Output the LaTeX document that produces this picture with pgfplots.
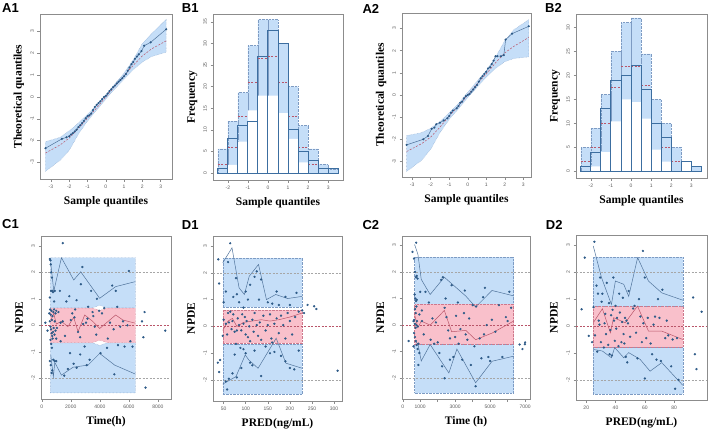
\documentclass[border=0pt]{standalone}
\usepackage{fontspec}
\setmainfont{Liberation Serif}
\newfontfamily\arial{Liberation Sans}
\usepackage{pgfplots}
\pgfplotsset{compat=1.18}

\definecolor{bandblue}{RGB}{197,222,248}
\definecolor{bandedge}{RGB}{125,155,195}
\definecolor{pinkband}{RGB}{249,192,203}
\definecolor{pinkedge}{RGB}{205,120,140}
\definecolor{ptblue}{RGB}{45,90,135}
\definecolor{lineblue}{RGB}{80,115,155}
\definecolor{medred}{RGB}{185,85,105}
\definecolor{obsblue}{RGB}{60,110,160}
\definecolor{boxgray}{RGB}{140,140,140}
\definecolor{ticktext}{RGB}{90,90,90}

\pgfplotsset{
  panel/.style={
    scale only axis, width=130pt, height=165pt,
    anchor=south west, clip=true,
    axis line style={boxgray, line width=0.6pt},
    tick align=outside, tick pos=left,
    major tick length=2.5pt,
    tick style={boxgray, line width=0.4pt},
    ticklabel style={font=\arial\fontsize{5}{6}\selectfont, text=ticktext},
    /pgf/number format/assume math mode=true,
    /pgf/number format/1000 sep={},
    scaled ticks=false,
    yticklabel style={rotate=90, anchor=south},
    label style={font=\bfseries\fontsize{11.5}{12}\selectfont},
    xlabel style={at={(axis description cs:0.5,0)}, anchor=base, yshift=-25pt},
    ylabel style={at={(axis description cs:-0.14,0.5)}, anchor=base},
  },
  band/.style={fill=bandblue, draw=bandedge, densely dotted, line width=0.4pt},
  pband/.style={fill=pinkband, draw=pinkedge, densely dotted, line width=0.4pt},
  pts/.style={only marks, mark=*, mark size=0.95pt, ptblue, mark options={draw=ptblue, fill=ptblue}},
  pctl/.style={lineblue, line width=0.5pt},
  pmed/.style={medred, line width=0.5pt},
  refl/.style={gray!70, line width=0.4pt, dash pattern=on 2pt off 1.5pt},
  zerol/.style={medred, line width=0.4pt, dash pattern=on 2pt off 1.5pt},
  qqmed/.style={medred, line width=0.5pt, dash pattern=on 2pt off 1.5pt},
}

\begin{document}
\begin{tikzpicture}
\useasboundingbox (0,0) rectangle (708pt,-432pt);

% panel letters
\node[anchor=base west, inner sep=0, font=\arial\bfseries\fontsize{13}{14}\selectfont] at (2pt,-12.7pt) {A1};
\node[anchor=base west, inner sep=0, font=\arial\bfseries\fontsize{13}{14}\selectfont] at (181.7pt,-12.7pt) {B1};
\node[anchor=base west, inner sep=0, font=\arial\bfseries\fontsize{13}{14}\selectfont] at (362.3pt,-13.3pt) {A2};
\node[anchor=base west, inner sep=0, font=\arial\bfseries\fontsize{13}{14}\selectfont] at (545pt,-12.7pt) {B2};
\node[anchor=base west, inner sep=0, font=\arial\bfseries\fontsize{13}{14}\selectfont] at (2pt,-228.7pt) {C1};
\node[anchor=base west, inner sep=0, font=\arial\bfseries\fontsize{13}{14}\selectfont] at (181.7pt,-229.3pt) {D1};
\node[anchor=base west, inner sep=0, font=\arial\bfseries\fontsize{13}{14}\selectfont] at (362.3pt,-229.3pt) {C2};
\node[anchor=base west, inner sep=0, font=\arial\bfseries\fontsize{13}{14}\selectfont] at (545.7pt,-229.3pt) {D2};

% ---------- A1 ----------
\begin{axis}[panel, at={(40pt,-179pt)}, width=132pt,
  xmin=-3.6, xmax=3.62, ymin=-3.76, ymax=3.8,
  xtick={-3,...,3}, ytick={-3,...,3},
  xlabel={Sample quantiles}, ylabel={Theoretical quantiles}]
\addplot[band] coordinates {(-3.3,-3.41) (-2.5,-2.9) (-2.0,-2.45) (-1.5,-1.7) (-1.0,-1.1) (-0.5,-0.6) (0,-0.1) (0.5,0.38) (1.0,0.82) (1.5,1.25) (2.0,1.6) (2.5,1.85) (3.3,2.05)
  (3.3,3.55) (2.5,2.9) (2.0,2.45) (1.5,1.7) (1.0,1.1) (0.5,0.6) (0,0.1) (-0.5,-0.38) (-1.0,-0.8) (-1.5,-1.2) (-2.0,-1.55) (-2.5,-1.85) (-3.3,-2.05)} -- cycle;
\addplot[qqmed] coordinates {(-3.3,-2.57) (-2.5,-2.2) (-2,-1.88) (-1.5,-1.45) (-1,-0.97) (-0.5,-0.5) (0,0) (0.5,0.5) (1,0.97) (1.5,1.45) (2,1.88) (2.5,2.2) (3.3,2.57)};
\addplot[lineblue, line width=0.5pt, mark=*, mark size=0.8pt, mark options={ptblue}] coordinates {
 (-3.3,-2.35) (-2.4,-1.92) (-2.15,-1.85) (-2.0,-1.8) (-1.9,-1.72) (-1.8,-1.66) (-1.7,-1.58) (-1.6,-1.5) (-1.5,-1.38) (-1.4,-1.3) (-1.3,-1.2) (-1.2,-1.1) (-1.1,-0.98) (-1.0,-0.88) (-0.9,-0.84) (-0.8,-0.76) (-0.7,-0.6) (-0.6,-0.46) (-0.5,-0.36) (-0.4,-0.28) (-0.3,-0.2) (-0.2,-0.1) (-0.1,0.0) (0,0.05) (0.1,0.15) (0.2,0.27) (0.3,0.35) (0.4,0.45) (0.5,0.52) (0.6,0.62) (0.7,0.7) (0.8,0.78) (0.9,0.86) (1.0,0.95) (1.1,1.05) (1.2,1.2) (1.3,1.35) (1.4,1.5) (1.5,1.6) (1.6,1.75) (1.7,1.85) (1.8,1.95) (1.95,2.1) (2.1,2.35) (2.45,2.5) (3.3,3.1)};
\end{axis}

% ---------- B1 ----------
\begin{axis}[panel, at={(213pt,-180pt)}, height=166pt,
  xmin=-2.74, xmax=3.74, ymin=-1.6, ymax=36.8,
  xtick={-2,...,3}, ytick={0,5,...,35},
  xlabel={Sample quantiles}, ylabel={Frequency}]
\addplot[ybar interval, band] coordinates {(-2.5,5.6) (-2,12) (-1.5,18.6) (-1,29.5) (-0.5,35.5) (0,35.5) (0.5,30) (1,20) (1.5,11) (2,5.6) (2.5,2) (3,1) (3.5,1)};
\addplot[ybar interval, fill=white, draw=none] coordinates {(-2.5,0) (-2,1.9) (-1.5,7.3) (-1,14.5) (-0.5,17.9) (0,17.9) (0.5,13.9) (1,7.9) (1.5,2.5) (2,0) (2.5,0) (3,0) (3.5,0)};
\addplot[qqmed, unbounded coords=jump] coordinates {(-2.5,2) (-2,2) (-2,nan) (-2,6) (-1.5,6) (-1.5,nan) (-1.5,13.1) (-1,13.1) (-1,nan) (-1,21) (-0.5,21) (-0.5,nan) (-0.5,26.6) (0,26.6) (0,nan) (0,27) (0.5,27) (0.5,nan) (0.5,21) (1,21) (1,nan) (1,13.1) (1.5,13.1) (1.5,nan) (1.5,6) (2,6) (2,nan) (2,2) (2.5,2)};
\addplot[ybar interval, fill=none, draw=obsblue, line width=1pt] coordinates {(-2.5,1) (-2,8) (-1.5,11) (-1,12) (-0.5,27) (0,33) (0.5,30) (1,10) (1.5,5) (2,3) (2.5,1) (3,1) (3.5,1)};
\end{axis}

% ---------- A2 ----------
\begin{axis}[panel, at={(402pt,-177pt)}, width=129pt, height=164pt,
  xmin=-3.55, xmax=3.42, ymin=-3.7, ymax=3.7,
  xtick={-3,...,3}, ytick={-3,...,3},
  xlabel={Sample quantiles}, ylabel={Theoretical quantiles}]
\addplot[band] coordinates {(-3.3,-3.45) (-2.5,-2.95) (-2.0,-2.45) (-1.5,-1.7) (-1.0,-1.1) (-0.5,-0.62) (0,-0.12) (0.5,0.35) (1.0,0.8) (1.5,1.2) (2.0,1.5) (2.5,1.65) (3.3,1.72)
  (3.3,3.4) (2.5,2.95) (2.0,2.45) (1.5,1.7) (1.0,1.1) (0.5,0.62) (0,0.12) (-0.5,-0.38) (-1.0,-0.8) (-1.5,-1.2) (-2.0,-1.5) (-2.5,-1.7) (-3.3,-1.83)} -- cycle;
\addplot[qqmed] coordinates {(-3.3,-2.55) (-2.5,-2.2) (-2,-1.9) (-1.5,-1.45) (-1,-0.95) (-0.5,-0.5) (0,0) (0.5,0.5) (1,0.95) (1.5,1.45) (2,1.9) (2.5,2.2) (3.3,2.6)};
\addplot[lineblue, line width=0.5pt, mark=*, mark size=0.8pt, mark options={ptblue}] coordinates {
 (-3.3,-2.25) (-2.4,-2.0) (-2.15,-1.85) (-1.95,-1.53) (-1.8,-1.47) (-1.7,-1.32) (-1.5,-1.25) (-1.3,-1.15) (-1.1,-1.05) (-1.0,-0.95) (-0.9,-0.8) (-0.8,-0.7) (-0.6,-0.6) (-0.5,-0.5) (-0.4,-0.35) (-0.3,-0.3) (-0.2,-0.15) (-0.1,-0.05) (0,0.0) (0.1,0.05) (0.2,0.15) (0.3,0.25) (0.4,0.35) (0.5,0.45) (0.6,0.6) (0.7,0.75) (0.8,0.85) (0.9,0.95) (1.0,1.05) (1.1,1.2) (1.2,1.25) (1.3,1.4) (1.4,1.55) (1.5,1.75) (1.6,1.75) (1.8,1.75) (1.95,1.8) (2.05,2.5) (2.4,2.77) (3.3,3.1)};
\end{axis}

% ---------- B2 ----------
\begin{axis}[panel, at={(576pt,-178pt)}, width=131pt, height=164pt,
  xmin=-2.74, xmax=3.78, ymin=-1.4, ymax=32.8,
  xtick={-2,...,3}, ytick={0,5,...,30},
  xlabel={Sample quantiles}, ylabel={Frequency}]
\addplot[ybar interval, band] coordinates {(-2.5,5) (-2,9) (-1.5,16) (-1,25) (-0.5,31) (0,32) (0.5,24.5) (1,15) (1.5,10) (2,5) (2.5,0) (3,1) (3.5,1)};
\addplot[ybar interval, fill=white, draw=none] coordinates {(-2.5,0) (-2,1) (-1.5,4) (-1,10.4) (-0.5,15) (0,14.4) (0.5,11) (1,4.5) (1.5,2) (2,0) (2.5,0) (3,0) (3.5,0)};
\addplot[qqmed, unbounded coords=jump] coordinates {(-2.5,2) (-2,2) (-2,nan) (-2,5) (-1.5,5) (-1.5,nan) (-1.5,10) (-1,10) (-1,nan) (-1,17.5) (-0.5,17.5) (-0.5,nan) (-0.5,22) (0,22) (0,nan) (0,22) (0.5,22) (0.5,nan) (0.5,18) (1,18) (1,nan) (1,10) (1.5,10) (1.5,nan) (1.5,5) (2,5) (2,nan) (2,2) (2.5,2)};
\addplot[ybar interval, fill=none, draw=obsblue, line width=1pt] coordinates {(-2.5,1) (-2,4) (-1.5,13) (-1,19) (-0.5,20) (0,22) (0.5,17) (1,10) (1.5,7) (2,0) (2.5,2) (3,1) (3.5,1)};
\end{axis}

% ---------- C1 ----------
\begin{axis}[panel, at={(41pt,-399pt)}, height=163pt,
  xmin=-50, xmax=8900, ymin=-2.78, ymax=3.37,
  xtick={0,2000,...,8000}, ytick={-2,...,3},
  xlabel={Time(h)}, ylabel={NPDE}]
\addplot[band] coordinates {(600,0.66) (3500,0.66) (4000,0.76) (4500,0.66) (6450,0.66) (6450,2.55) (600,2.55)} -- cycle;
\addplot[band] coordinates {(600,-2.55) (6450,-2.55) (6450,-0.66) (4500,-0.66) (4000,-0.76) (3500,-0.66) (600,-0.66)} -- cycle;
\addplot[pband] coordinates {(600,-0.65) (3500,-0.65) (4000,-0.56) (4500,-0.65) (6450,-0.65) (6450,0.65) (4500,0.65) (4000,0.56) (3500,0.65) (600,0.65)} -- cycle;
\addplot[refl] coordinates {(-50,2) (8900,2)};
\addplot[refl] coordinates {(-50,-2) (8900,-2)};
\addplot[zerol] coordinates {(-50,0) (8900,0)};
\addplot[pctl] coordinates {(623,2.34) (830,1.29) (1357,2.55) (2205,1.71) (2685,2.02) (3990,1.02) (5090,1.46) (6450,1.65)};
\addplot[pmed] coordinates {(623,0.2) (830,0.45) (1000,0.05) (1357,0.15) (1800,-0.05) (2200,0.3) (2500,-0.24) (2960,0.39) (3530,0.14) (3990,-0.12) (5090,0.39) (5590,0.2) (6450,0.08)};
\addplot[pctl] coordinates {(623,-1.12) (800,-1.94) (900,-1.4) (1357,-1.88) (2160,-1.58) (3190,-1.5) (3990,-1.06) (5020,-1.5) (6450,-1.84)};
\addplot[pts] coordinates {
 (560,2.5) (600,2.45) (620,2.3) (650,2.0) (700,1.8) (640,1.3) (720,1.3) (780,1.25) (900,1.3) (850,0.9) (560,1.05)
 (520,0.45) (580,0.6) (620,0.4) (660,0.55) (700,0.2) (740,0.35) (800,0.5) (850,0.6) (900,0.15) (950,0.45) (1000,0.55)
 (560,0.15) (600,-0.05) (640,-0.15) (680,-0.3) (720,-0.4) (780,-0.25) (820,-0.1) (880,-0.35) (950,-0.2) (1000,-0.5) (1050,-0.1)
 (600,-0.55) (650,-0.7) (700,-0.85) (750,-0.5) (560,-1.35) (620,-1.5) (680,-1.8) (720,-1.7) (800,-1.3) (900,-1.35) (1000,-1.35)
 (1550,-1.9) (1450,0.15) (1300,0.1) (1600,-0.4)
 (1450,3.1) (1700,0.9) (1900,1.1) (1950,-1.05) (2100,0.45) (2250,0.3) (2300,0.6) (2400,0.95) (2500,-0.25) (2650,-0.45)
 (2800,2.2) (2700,1.55) (2850,0.05) (2950,-0.8) (3050,0.1) (3150,0.25) (3200,0.7) (3300,-1.3) (3400,1.3) (3500,0.5)
 (3550,0.35) (3650,-0.05) (3750,-0.35) (3800,1.0) (3950,0.55) (4050,-1.05) (4150,0.45) (4300,0.65) (4500,-0.85) (4550,-0.5)
 (4700,0.1) (4850,1.5) (4950,-0.15) (5000,-1.85) (5100,1.3) (5200,0.7) (5250,-0.75) (5400,-0.05) (5600,0.15) (5700,-0.8)
 (5900,0.0) (6000,2.05) (6100,-0.6) (6250,-0.8) (2200,-1.45) (2400,-1.6) (3100,-1.5) (2650,-1.1) (1800,-1.65) (2000,0.2)
 (1250,1.3) (1150,0.5) (1300,-0.6)
 (250,0.1) (400,-0.2) (6900,0.15) (7000,-0.45) (7080,0.5) (8500,-0.2) (7150,-2.35)};
\end{axis}

% ---------- D1 ----------
\begin{axis}[panel, at={(213pt,-401pt)}, width=129pt,
  xmin=26, xmax=318, ymin=-2.78, ymax=3.37,
  xtick={50,100,...,300}, ytick={-2,...,3},
  xlabel={PRED(ng/mL)}, ylabel={NPDE}]
\addplot[band] coordinates {(48,0.72) (228,0.72) (228,2.55) (48,2.55)} -- cycle;
\addplot[band] coordinates {(48,-2.52) (228,-2.52) (228,-0.66) (48,-0.66)} -- cycle;
\addplot[pband] coordinates {(48,-0.63) (228,-0.63) (228,0.6) (48,0.6)} -- cycle;
\addplot[refl] coordinates {(26,2) (318,2)};
\addplot[refl] coordinates {(26,-2) (318,-2)};
\addplot[zerol] coordinates {(26,0) (318,0)};
\addplot[pctl] coordinates {(48,2.37) (69,2.93) (85,1.44) (97,1.19) (108,1.87) (129,2.31) (147,1.0) (168,1.19) (195,1.04) (228,1.12)};
\addplot[pmed] coordinates {(48,-0.15) (60,0.2) (70,0.3) (80,0.0) (95,0.15) (115,0.2) (135,0.25) (155,0.2) (175,0.25) (200,0.35) (228,0.5)};
\addplot[pctl] coordinates {(48,-2.15) (78,-1.87) (99,-1.06) (107,-1.25) (128,-1.56) (169,-0.44) (191,-1.37) (228,-1.56)};
\addplot[pts] coordinates {
 (38,2.5) (40,1.6) (37,-1.35) (42,-1.25) (40,-1.7) (65,3.1) (58,-2.35) (308,-1.65)
 (50,0.9) (55,1.3) (48,-0.35) (50,0.25) (55,0.1) (58,-0.3) (60,0.5) (62,0.15) (65,0.55) (68,-0.1) (70,0.2) (72,0.45)
 (75,-0.2) (78,-0.65) (80,-0.15) (82,0.3) (85,0.05) (88,-0.8) (90,-0.15) (92,0.45) (95,0.1) (98,0.35) (100,-0.3)
 (102,0.2) (105,-0.4) (108,0.0) (110,-0.55) (115,0.25) (118,-0.2) (120,0.5) (125,0.05) (128,-0.35) (132,0.15)
 (135,-0.5) (140,0.4) (145,-0.15) (150,0.05) (155,0.45) (158,-0.45) (160,-0.6) (165,0.1) (170,0.3) (175,-0.25)
 (180,0.4) (185,0.05) (190,-0.45) (195,0.5) (200,0.2) (205,-0.3) (212,0.35) (220,0.55) (228,0.6)
 (60,2.4) (72,1.1) (78,1.8) (80,1.2) (85,0.9) (95,0.7) (100,1.3) (105,1.0) (110,1.55) (120,1.85) (125,2.05) (130,1.0)
 (135,1.75) (150,0.9) (160,0.85) (170,1.3) (175,0.8) (190,1.1) (200,0.8) (215,1.25) (240,0.8) (255,0.75) (260,0.65) (232,0.5)
 (70,-1.75) (75,-1.05) (80,-1.9) (90,-1.55) (95,-0.85) (100,-1.0) (110,-1.35) (115,-1.45) (120,-0.9) (135,-1.85)
 (145,-0.75) (155,-1.0) (165,-0.95) (180,-1.1) (190,-1.3) (200,-1.55) (210,-1.6) (220,-0.9) (62,-1.95) (55,-2.05)};
\end{axis}

% ---------- C2 ----------
\begin{axis}[panel, at={(402pt,-399pt)}, width=128pt, height=163pt,
  xmin=-40, xmax=7280, ymin=-2.78, ymax=3.35,
  xtick={0,1000,...,7000}, xticklabels={0,1000,,3000,,5000,,7000}, ytick={-2,...,3},
  xlabel={Time (h)}, ylabel={NPDE}]
\addplot[band] coordinates {(680,0.78) (6340,0.78) (6340,2.56) (680,2.56)} -- cycle;
\addplot[band] coordinates {(680,-2.55) (6340,-2.55) (6340,-0.72) (680,-0.72)} -- cycle;
\addplot[pband] coordinates {(680,-0.72) (6340,-0.72) (6340,0.78) (680,0.78)} -- cycle;
\addplot[refl] coordinates {(-40,2) (7280,2)};
\addplot[refl] coordinates {(-40,-2) (7280,-2)};
\addplot[zerol] coordinates {(-40,0) (7280,0)};
\addplot[pctl] coordinates {(680,3.03) (870,2.66) (1060,1.72) (1570,1.15) (2380,1.8) (3610,1.09) (4170,0.68) (5110,1.3) (6340,1.1)};
\addplot[pmed] coordinates {(680,0.4) (870,-0.1) (1060,0.15) (1570,0.0) (2380,0.55) (2800,-0.25) (3610,-0.2) (4170,-0.55) (5110,-0.3) (6340,0.15)};
\addplot[pctl] coordinates {(680,-0.6) (870,-0.7) (1060,-1.35) (1570,-0.73) (2640,-1.8) (3100,-0.9) (4170,-2.17) (5110,-1.36) (6340,-1.17)};
\addplot[pts] coordinates {
 (340,-0.6) (770,3.1) (560,2.75) (6680,-0.73) (6850,-0.9) (7000,-0.65) (6990,-0.72) (4170,-2.3) (2400,-2.0) (900,-1.5)
 (650,2.5) (700,2.0) (750,1.8) (800,1.85) (850,1.75) (680,1.15) (720,1.0) (760,0.9) (800,0.95) (700,0.6) (740,0.45)
 (780,0.7) (620,0.15) (660,0.2) (700,0.05) (740,-0.1) (780,0.0) (820,0.15) (860,-0.05) (650,-0.3) (700,-0.45)
 (750,-0.6) (800,-0.75) (850,-0.9) (900,-0.7) (950,-1.05) (620,-0.8) (950,0.4) (1000,1.25) (1100,0.55) (1200,-0.35)
 (1300,1.25) (1100,0.15)
 (1500,0.85) (1600,-0.55) (1700,0.25) (1900,0.1) (2000,-0.65) (2100,-1.05) (2200,1.7) (2300,1.8) (2400,0.65) (2450,1.0)
 (2500,0.3) (2600,-0.2) (2700,-0.5) (2800,1.5) (2900,-1.2) (3000,-0.45) (3050,0.35) (3150,0.85) (3200,-0.7) (3300,-0.15)
 (3400,-1.3) (3500,0.45) (3550,1.3) (3600,-0.35) (3700,-0.55) (3800,0.25) (3900,-1.5) (4000,0.75) (4100,-0.8) (4200,0.7)
 (4400,-0.5) (4500,-1.25) (4600,1.05) (4650,-0.35) (4700,1.4) (4800,0.0) (4900,-1.2) (5000,-1.35) (5100,0.2) (5300,-0.25)
 (5500,0.75) (5700,-1.2) (5900,0.3) (6000,0.15) (6100,1.25) (6200,0.65) (1800,-0.7) (2250,-1.55) (2700,-1.3)};
\end{axis}

% ---------- D2 ----------
\begin{axis}[panel, at={(576pt,-400pt)}, width=131pt,
  xmin=13, xmax=102.5, ymin=-2.75, ymax=3.38,
  xtick={20,40,60,80}, ytick={-2,...,3},
  xlabel={PRED(ng/mL)}, ylabel={NPDE}]
\addplot[band] coordinates {(24.8,0.72) (85.9,0.72) (85.9,2.56) (24.8,2.56)} -- cycle;
\addplot[band] coordinates {(24.8,-2.54) (85.9,-2.54) (85.9,-0.77) (24.8,-0.77)} -- cycle;
\addplot[pband] coordinates {(24.8,-0.77) (85.9,-0.77) (85.9,0.72) (24.8,0.72)} -- cycle;
\addplot[refl] coordinates {(13,2) (102.5,2)};
\addplot[refl] coordinates {(13,-2) (102.5,-2)};
\addplot[zerol] coordinates {(13,0) (102.5,0)};
\addplot[pctl] coordinates {(24.8,2.97) (30.4,1.8) (37.2,0.8) (39.9,1.67) (45.6,1.55) (49,1.1) (55.1,2.54) (62.5,1.67) (71.6,1.23) (85.9,0.96)};
\addplot[pmed] coordinates {(24.8,0.12) (31,0.64) (36.5,-0.25) (38.7,0.31) (46.6,0.12) (55,0.74) (62.5,-0.19) (71.6,-0.19) (85.9,-0.5)};
\addplot[pctl] coordinates {(24.8,-0.87) (31,-0.93) (37.2,-1.18) (39.4,-0.8) (45.6,-1.18) (49,-0.99) (56.8,-1.24) (63.6,-1.68) (71.6,-1.36) (85.9,-2.2)};
\addplot[pts] coordinates {
 (16.8,0.62) (19,2.54) (21.7,-0.37) (25.6,3.13) (58.7,2.79) (93,1.06) (94.2,-1.05) (95.3,-1.6) (98.8,0.53) (80.7,-2.33) (60,-1.95)
 (24,-0.6) (25,0.7) (26,-0.35) (27,1.5) (27.5,-0.95) (28,1.2) (28.5,0.2) (29,0.05) (29.5,1.8) (30,-0.6) (30.5,0.9)
 (31,1.2) (32,-0.8) (32.5,0.1) (33,0.45) (33.5,-0.3) (34,1.6) (35,-0.7) (35.5,0.85) (36,-1.05) (36.5,-0.15) (37,0.4)
 (37.5,-1.1) (38,0.6) (38.5,1.8) (39,0.2) (39.5,-0.55) (40,0.75) (40.5,-0.1) (41,0.3) (42,-0.75) (42.5,1.2) (43,0.5)
 (44,-0.6) (44.5,0.15) (45,1.05) (45.5,-0.3) (46,-0.65) (46.5,0.3) (47,-1.15) (47.5,0.2) (48,-1.35) (48.5,0.1) (49,1.3)
 (50,-0.4) (52,0.65) (53,0.75) (54,-0.25) (55,-1.2) (56,1.0) (57,0.35) (58,-0.6) (59,0.1) (60,1.8) (61,-0.45) (62,0.3)
 (64,-0.65) (65,-1.05) (66,0.05) (67,0.35) (68,-1.25) (69,1.0) (70,0.3) (71,-1.3) (72,1.35) (74,-0.45) (75,0.2)
 (76,-0.35) (78,-1.5) (79,-0.5) (82,-0.45) (83,-2.0)};
\end{axis}
\end{tikzpicture}
\end{document}
